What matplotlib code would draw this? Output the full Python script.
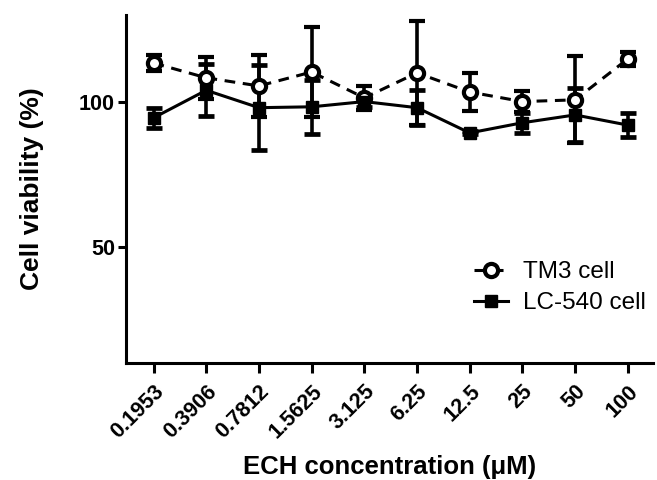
import matplotlib

matplotlib.use("Agg")
import matplotlib.pyplot as plt
import numpy as np

# ECH concentrations (uM), categorical x axis
conc_labels = ["0.1953", "0.3906", "0.7812", "1.5625", "3.125",
               "6.25", "12.5", "25", "50", "100"]

# mean +- error
tm3_mean = [113.4, 108.3, 105.5, 110.3, 101.4, 110.0, 103.4, 100.1, 100.7, 114.8]
tm3_err = [2.7, 7.2, 10.7, 15.6, 4.1, 18.0, 6.5, 3.5, 15.0, 2.4]
lc_mean = [94.5, 104.0, 98.0, 98.3, 100.1, 98.0, 89.3, 92.8, 95.5, 92.0]
lc_err = [3.4, 9.0, 14.6, 9.3, 2.0, 6.0, 0.5, 3.4, 9.2, 4.0]

plt.rcParams["font.family"] = ["Liberation Sans", "DejaVu Sans"]

fig = plt.figure(figsize=(6.57, 4.8), dpi=100)
ax = fig.add_axes([0.192, 0.244, 0.802, 0.725])

x = np.arange(len(conc_labels))

ax.errorbar(x, tm3_mean, yerr=tm3_err, color="black", lw=2.2, ls=(0, (3.5, 2.5)),
            marker="o", ms=9.5, mfc="white", mec="black", mew=3.0,
            elinewidth=2.6, capsize=6, capthick=3.4, label="TM3 cell", zorder=3)
ax.errorbar(x, lc_mean, yerr=lc_err, color="black", lw=2.2, ls="-",
            marker="s", ms=9, mfc="black", mec="black",
            elinewidth=2.6, capsize=6, capthick=3.4, label="LC-540 cell", zorder=3)

ax.set_xlim(-0.52, 9.48)
ax.set_ylim(10, 130)
ax.set_yticks([50, 100])
ax.set_xticks(x)
ax.set_xticklabels(conc_labels, rotation=45, ha="right", va="top", rotation_mode="anchor")

for lab in ax.get_xticklabels() + ax.get_yticklabels():
    lab.set_fontweight("bold")
    lab.set_fontsize(15.5)

ax.spines["top"].set_visible(False)
ax.spines["right"].set_visible(False)
ax.spines["left"].set_linewidth(2.2)
ax.spines["bottom"].set_linewidth(2.2)
ax.tick_params(axis="y", width=2.2, length=6, direction="out", pad=2)
ax.tick_params(axis="x", width=2.2, length=7, direction="out", pad=6)

ax.set_xlabel("ECH concentration (\u03bcM)", fontsize=18.5, fontweight="bold", labelpad=9)
ax.set_ylabel("Cell viability (%)", fontsize=19, fontweight="bold", labelpad=25)

handles, labels = ax.get_legend_handles_labels()
handles = [h[0] for h in handles]  # drop error bars from legend keys
ax.legend(handles, labels, loc="upper left", bbox_to_anchor=(0.618, 0.355), frameon=False,
          fontsize=17.5, handlelength=1.4, handletextpad=0.65, labelspacing=0.38)

fig.savefig("out.png", dpi=100)
